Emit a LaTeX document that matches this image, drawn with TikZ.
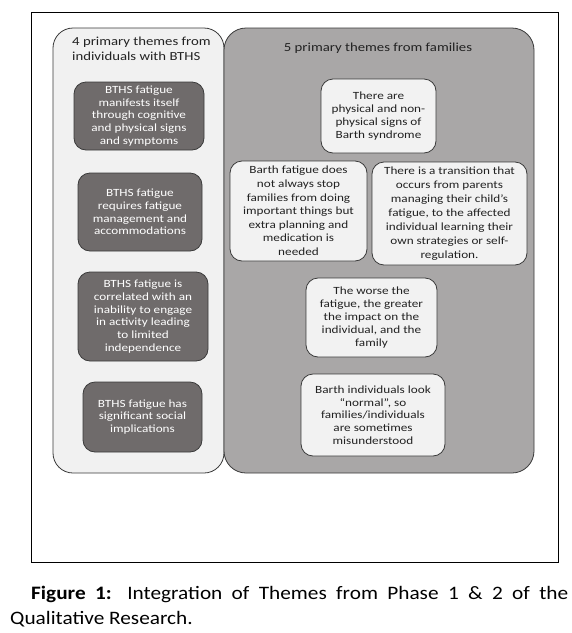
\documentclass[tikz,border=0pt]{standalone}
\usepackage{fontspec}
\setmainfont{Carlito}[FakeStretch=1.2]
\newfontfamily\capfont{Carlito}[FakeStretch=1.12]
\definecolor{panelL}{HTML}{F1F1F1}
\definecolor{panelR}{HTML}{A9A7A7}
\definecolor{darkbox}{HTML}{6F6B6B}
\definecolor{lightbox}{HTML}{F2F2F2}
\definecolor{edge}{HTML}{3A3A3A}
\definecolor{txt}{HTML}{222222}
\tikzset{
  darktheme/.style={draw=edge, line width=0.8pt, fill=darkbox, rounded corners=12pt,
    text=white, align=center, inner sep=0pt, font=\fontsize{11}{12.8}\selectfont},
  lighttheme/.style={draw=edge, line width=0.8pt, fill=lightbox, rounded corners=12pt,
    text=txt, align=center, inner sep=0pt, font=\fontsize{11}{13.2}\selectfont},
  paneltitle/.style={text=txt, inner sep=0pt, font=\fontsize{12.3}{15}\selectfont},
}
\begin{document}
\begin{tikzpicture}[x=1pt,y=-1pt]
\useasboundingbox[fill=white] (0,0) rectangle (572,633);
% outer frame
\node[draw=black, line width=0.9pt, minimum width=527pt, minimum height=550pt, inner sep=0pt] (frame) at (294.5,287) {};
% panels
\node[draw=edge, line width=0.8pt, fill=panelL, rounded corners=20pt, minimum width=171pt, minimum height=445pt, inner sep=0pt] (left) at (138.5,250.5) {};
\node[draw=edge, line width=0.8pt, fill=panelR, rounded corners=22pt, minimum width=310pt, minimum height=445pt, inner sep=0pt] (right) at (379,250.5) {};
% titles
\node[paneltitle, anchor=north west, align=left] (ltitle) at (72,37) {4 primary themes from\\individuals with BTHS};
\node[paneltitle] (rtitle) at (378,48) {5 primary themes from families};
% left themes
\node[darktheme, minimum width=130pt, minimum height=68pt] (b1) at (139,116) {BTHS fatigue\\manifests itself\\through cognitive\\and physical signs\\and symptoms};
\node[darktheme, minimum width=124pt, minimum height=78pt] (b2) at (140,212) {BTHS fatigue\\requires fatigue\\management and\\accommodations};
\node[darktheme, minimum width=130pt, minimum height=89pt] (b3) at (143,316.5) {BTHS fatigue is\\correlated with an\\inability to engage\\in activity leading\\to limited\\independence};
\node[darktheme, minimum width=119pt, minimum height=70pt] (b4) at (142.5,417) {BTHS fatigue has\\significant social\\implications};
% right themes
\node[lighttheme, minimum width=115pt, minimum height=74pt] (fa) at (378.5,116) {There are\\physical and non-\\physical signs of\\Barth syndrome};
\node[lighttheme, minimum width=137pt, minimum height=100pt, font=\fontsize{11}{13.6}\selectfont] (fb) at (298.5,211) {Barth fatigue does\\not always stop\\families from doing\\important things but\\extra planning and\\medication is\\needed};
\node[lighttheme, minimum width=155pt, minimum height=103pt, font=\fontsize{11}{13.9}\selectfont] (fc) at (449.5,213.5) {There is a transition that\\occurs from parents\\managing their child’s\\fatigue, to the affected\\individual learning their\\own strategies or self-\\regulation.};
\node[lighttheme, minimum width=131pt, minimum height=79pt] (fd) at (371.5,317.5) {The worse the\\fatigue, the greater\\the impact on the\\individual, and the\\family};
\node[lighttheme, minimum width=144pt, minimum height=82pt, font=\fontsize{11}{12.7}\selectfont] (fe) at (373,415) {Barth individuals look\\“normal”, so\\families/individuals\\are sometimes\\misunderstood};
% caption
\node[anchor=north west, inner sep=0pt, text width=558pt, align=justify, text=black,
  font=\capfont\fontsize{19}{25}\selectfont] (cap) at (10,586)
  {\hspace*{21pt}\textbf{Figure 1:} Integration of Themes from Phase 1 \& 2 of the\linebreak Qualitative Research.};
\end{tikzpicture}
\end{document}
